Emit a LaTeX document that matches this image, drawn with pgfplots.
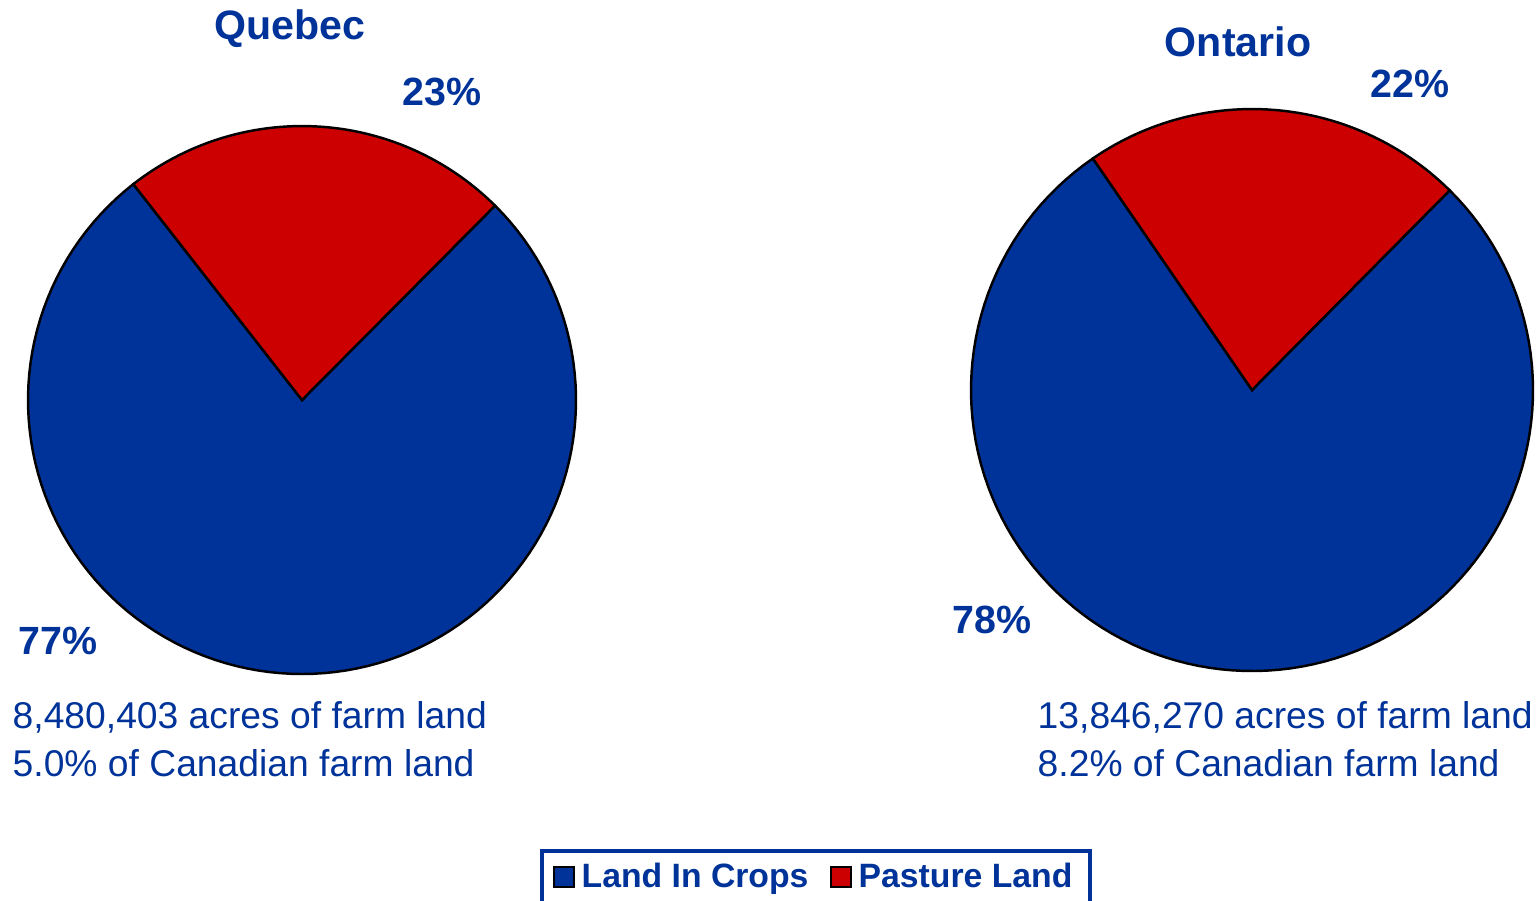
\documentclass[border=0pt]{standalone}
\usepackage{pgfplots}
\pgfplotsset{compat=1.18}
\usepackage{pgfplotstable}
\usepackage{fontspec}
\setmainfont{Liberation Sans}
\definecolor{pieblue}{HTML}{003399}
\definecolor{piered}{HTML}{CC0000}
\definecolor{txtblue}{HTML}{003399}

% shares in percent
\pgfplotstableread{
region crops pasture
Quebec 77 23
Ontario 78 22
}\sharetable

\begin{document}
\begin{tikzpicture}
\pgfplotstablegetelem{0}{pasture}\of\sharetable \let\qpas\pgfplotsretval
\pgfplotstablegetelem{1}{pasture}\of\sharetable \let\opas\pgfplotsretval
\pgfmathsetmacro{\qs}{45.2}
\pgfmathsetmacro{\qm}{\qs+3.6*\qpas}
\pgfmathsetmacro{\qe}{\qs+360}
\pgfmathsetmacro{\os}{45.3}
\pgfmathsetmacro{\om}{\os+3.6*\opas}
\pgfmathsetmacro{\oe}{\os+360}
\begin{axis}[
  scale only axis, width=15.39cm, height=9cm,
  xmin=0, xmax=1539, ymin=0, ymax=900, y dir=reverse,
  axis lines=none, clip=false,
  legend columns=2,
  legend style={at={(axis cs:816,849)}, anchor=north, draw=txtblue, line width=1pt,
    font=\fontsize{9.6}{11}\selectfont\bfseries, text=txtblue,
    inner xsep=3pt, inner ysep=1.5pt,
    /tikz/every even column/.append style={column sep=4pt}},
  legend image code/.code={\draw[#1, draw=black, line width=0.6pt] (0.02cm,-0.09cm) rectangle (0.22cm,0.11cm);},
]
% Quebec
\addplot[fill=pieblue, draw=black, line width=0.7pt, domain=\qm:\qe, samples=120, variable=\t, forget plot]
  ({302+274*cos(t)},{400-274*sin(t)}) -- (axis cs:302,400) -- cycle;
\addplot[fill=piered, draw=black, line width=0.7pt, domain=\qs:\qm, samples=60, variable=\t, forget plot]
  ({302+274*cos(t)},{400-274*sin(t)}) -- (axis cs:302,400) -- cycle;
% Ontario
\addplot[fill=pieblue, draw=black, line width=0.7pt, domain=\om:\oe, samples=120, variable=\t, forget plot]
  ({1252+281*cos(t)},{390-281*sin(t)}) -- (axis cs:1252,390) -- cycle;
\addplot[fill=piered, draw=black, line width=0.7pt, domain=\os:\om, samples=60, variable=\t, forget plot]
  ({1252+281*cos(t)},{390-281*sin(t)}) -- (axis cs:1252,390) -- cycle;

\addlegendimage{fill=pieblue}
\addlegendentry{Land In Crops}
\addlegendimage{fill=piered}
\addlegendentry{Pasture Land}

\begin{scope}[every node/.style={text=txtblue, inner sep=0pt}]
\node[font=\fontsize{11.7}{14}\selectfont\bfseries] at (axis cs:290,29) {Quebec};
\node[font=\fontsize{11.2}{14}\selectfont\bfseries] at (axis cs:442,92) {23\%};
\node[font=\fontsize{11.2}{14}\selectfont\bfseries] at (axis cs:58,641) {77\%};
\node[font=\fontsize{11.7}{14}\selectfont\bfseries] at (axis cs:1238,42) {Ontario};
\node[font=\fontsize{11.2}{14}\selectfont\bfseries] at (axis cs:1410,84) {22\%};
\node[font=\fontsize{11.2}{14}\selectfont\bfseries] at (axis cs:992,620) {78\%};
\node[font=\fontsize{10.6}{13}\selectfont, anchor=west] at (axis cs:12,717) {8,480,403 acres of farm land};
\node[font=\fontsize{10.6}{13}\selectfont, anchor=west] at (axis cs:12,763) {5.0\% of Canadian farm land};
\node[font=\fontsize{10.6}{13}\selectfont, anchor=west] at (axis cs:1037,717) {13,846,270 acres of farm land};
\node[font=\fontsize{10.6}{13}\selectfont, anchor=west] at (axis cs:1037,763) {8.2\% of Canadian farm land};
\end{scope}
\end{axis}
\pgfresetboundingbox
\path[use as bounding box] (0,0) rectangle (15.39cm,9cm);
\end{tikzpicture}
\end{document}
